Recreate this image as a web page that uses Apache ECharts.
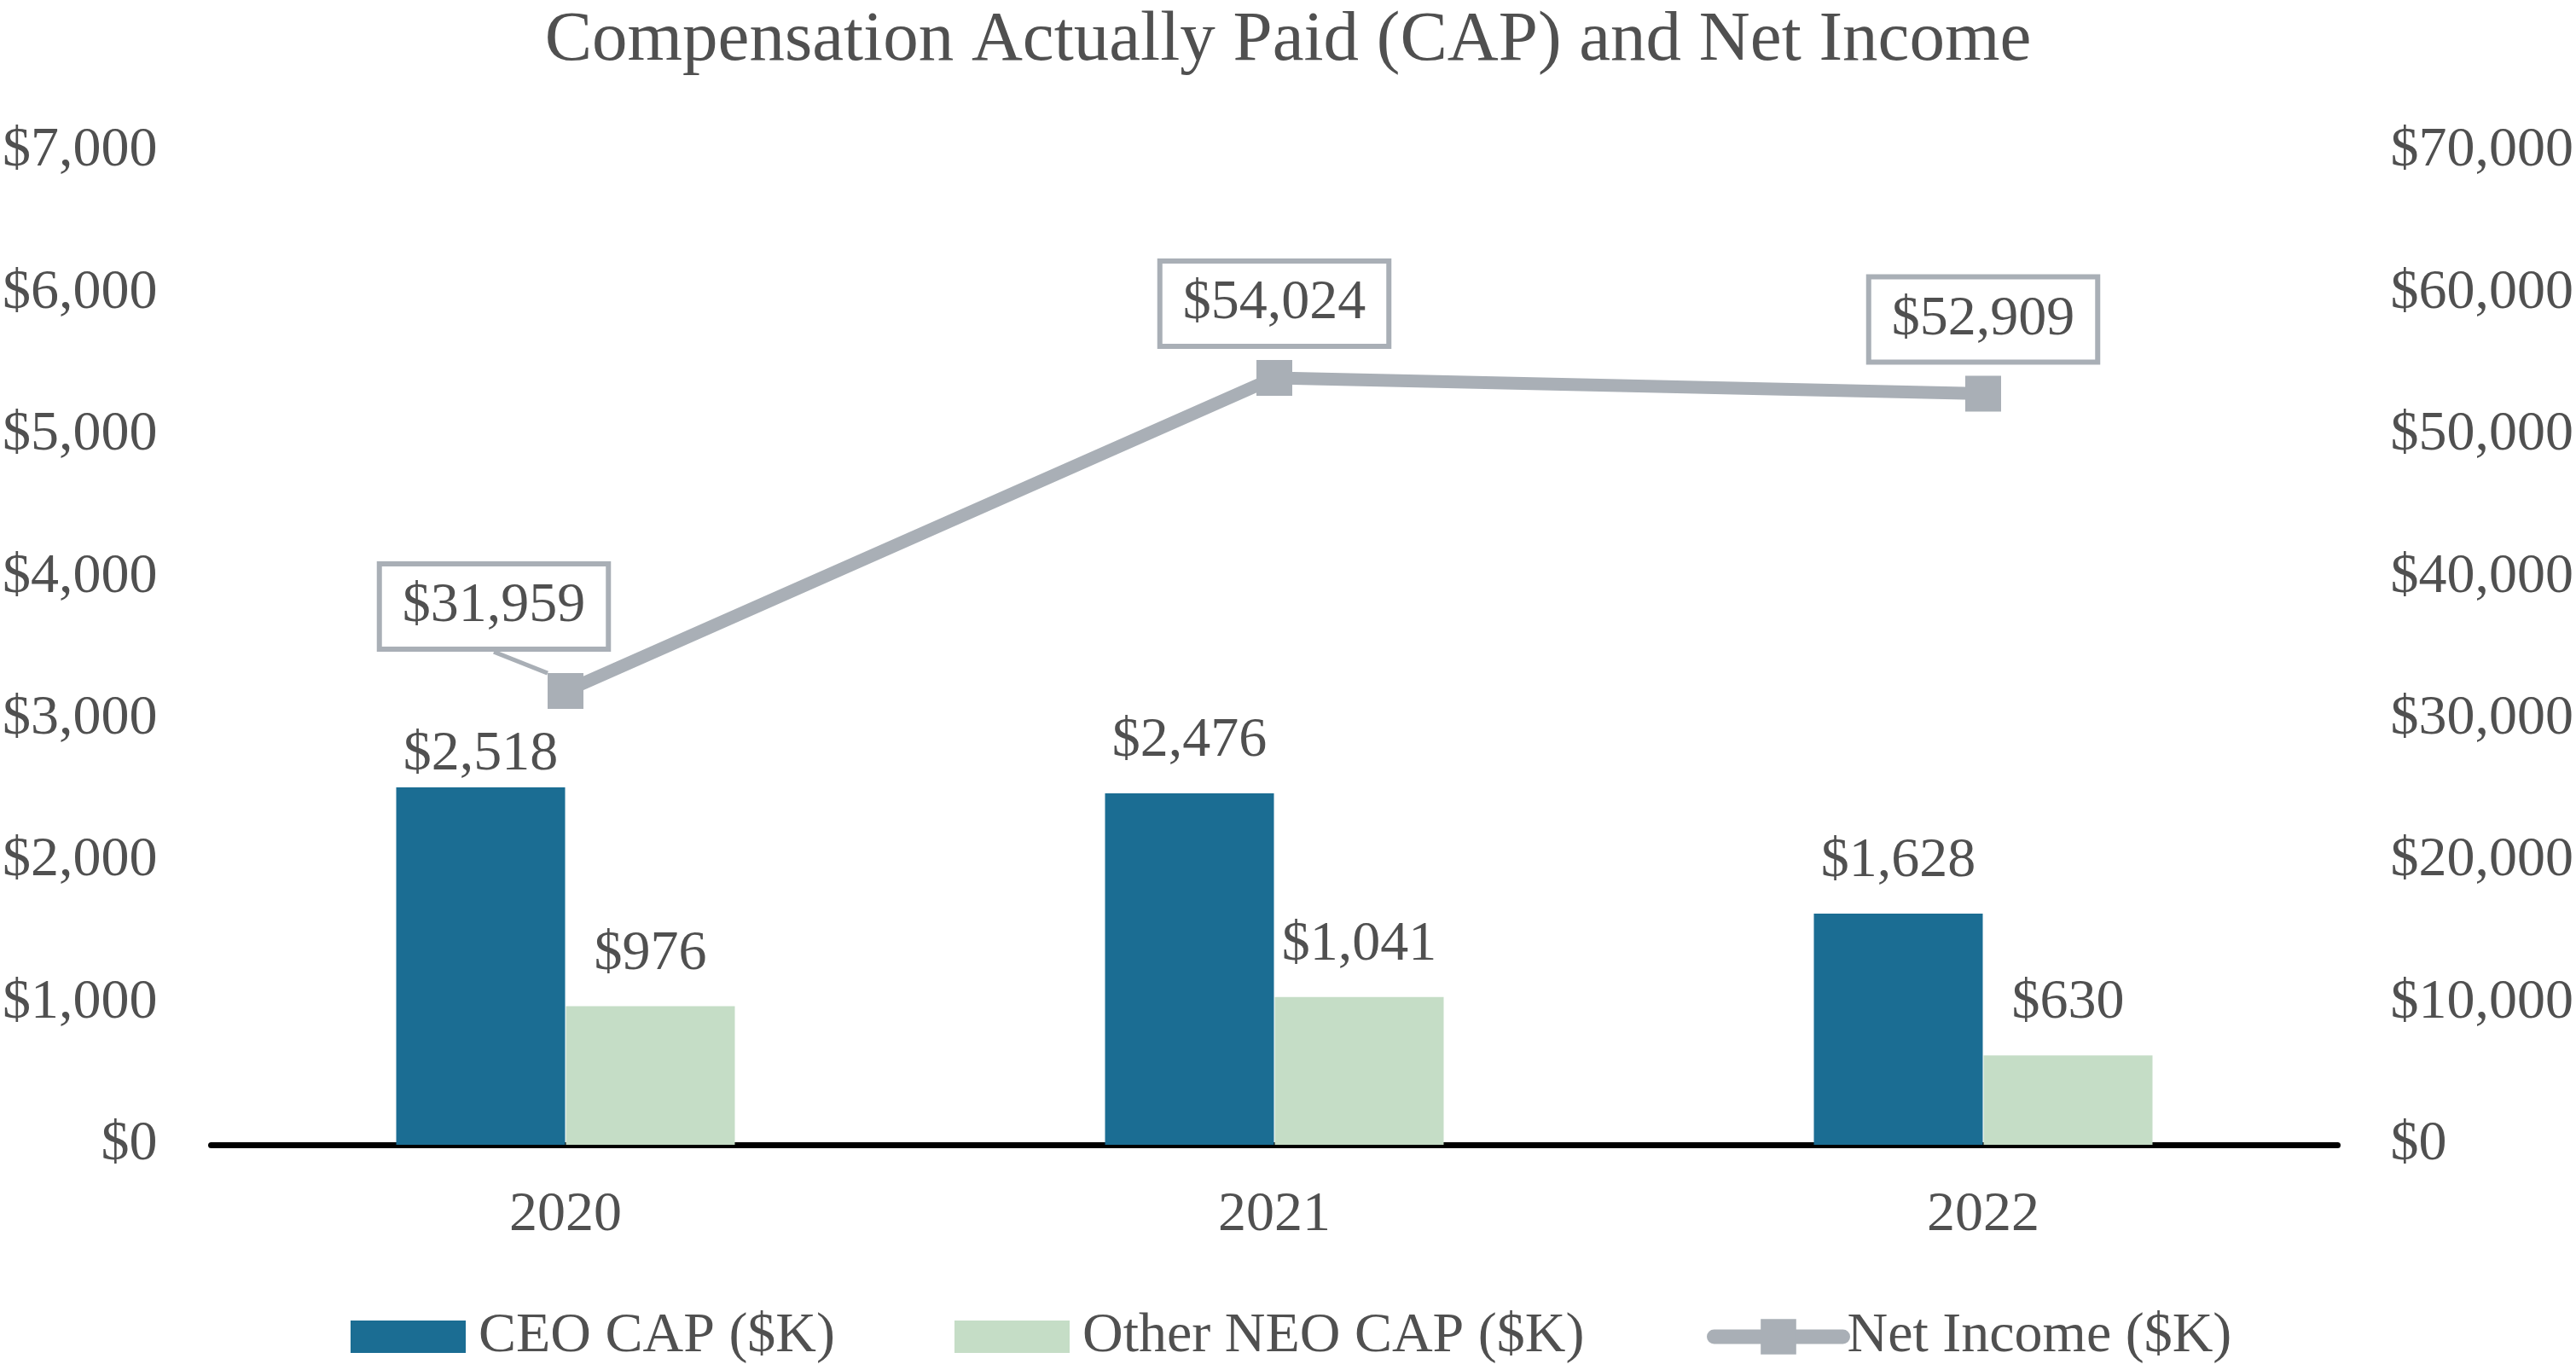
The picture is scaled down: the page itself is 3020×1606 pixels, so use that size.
<!DOCTYPE html>
<html>
<head>
<meta charset="utf-8">
<script src="https://cdn.jsdelivr.net/npm/echarts@6/dist/echarts.min.js"></script>
<style>html,body{margin:0;padding:0;background:#fff}#c{width:3020px;height:1606px}</style>
</head>
<body>
<div id="c"></div>
<script>
var years = ['2020', '2021', '2022'];
var ceoCap = [2518, 2476, 1628];
var neoCap = [976, 1041, 630];
var netIncome = [31959, 54024, 52909];
var leftTicks = {min: 0, max: 7000, interval: 1000};
var rightTicks = {min: 0, max: 70000, interval: 10000};

var FONT = 'Liberation Serif';
var TXT = '#505050';
var CEO_C = '#1b6d93';
var NEO_C = '#c5ddc6';
var LINE_C = '#a9afb6';

function money(v) { return '$' + Number(v).toLocaleString('en-US'); }

var chart = echarts.init(document.getElementById('c'));

var ceoData = ceoCap.map(function (v, i) {
  return i === 0 ? {value: v, label: {offset: [0, 23]}} : v;
});
var niData = netIncome.map(function (v, i) {
  return i === 0 ? {value: v} : {value: v, labelLine: {show: false}};
});

chart.setOption({
  backgroundColor: '#fff',
  animation: false,
  title: {
    text: 'Compensation Actually Paid (CAP) and Net Income',
    left: 'center', top: 2,
    textStyle: {fontFamily: FONT, fontSize: 83, fontWeight: 'normal', color: TXT}
  },
  legend: [{
    data: ['CEO CAP ($K)', 'Other NEO CAP ($K)'],
    left: 406, top: 1529,
    itemWidth: 135, itemHeight: 38, itemGap: 140,
    icon: 'rect',
    textStyle: {fontFamily: FONT, fontSize: 66, color: TXT, padding: [0, 0, 0, 10]}
  }, {
    data: ['Net Income ($K)'],
    left: 1996, top: 1529,
    itemWidth: 151, itemHeight: 52,
    lineStyle: {width: 17, cap: 'round'},
    textStyle: {fontFamily: FONT, fontSize: 66, color: TXT, padding: [0, 0, 0, 0]}
  }],
  grid: {left: 246, right: 274, top: 177, bottom: 264, containLabel: false},
  xAxis: {
    type: 'category', data: years,
    axisLine: {show: true, lineStyle: {color: '#000', width: 7}},
    axisTick: {show: false},
    axisLabel: {fontFamily: FONT, fontSize: 66, color: TXT, margin: 50},
    splitLine: {show: false}
  },
  yAxis: [{
    type: 'value', min: leftTicks.min, max: leftTicks.max, interval: leftTicks.interval,
    axisLine: {show: false}, axisTick: {show: false}, splitLine: {show: false},
    axisLabel: {fontFamily: FONT, fontSize: 66, color: TXT, margin: 63, formatter: money}
  }, {
    type: 'value', min: rightTicks.min, max: rightTicks.max, interval: rightTicks.interval,
    axisLine: {show: false}, axisTick: {show: false}, splitLine: {show: false},
    axisLabel: {fontFamily: FONT, fontSize: 66, color: TXT, margin: 62, formatter: money}
  }],
  series: [{
    name: 'CEO CAP ($K)', type: 'bar', data: ceoData,
    barWidth: 198, barGap: '0.5%',
    itemStyle: {color: CEO_C},
    label: {show: true, position: 'top', distance: 28, fontFamily: FONT, fontSize: 66, color: TXT,
      formatter: function (p) { return money(p.value); }}
  }, {
    name: 'Other NEO CAP ($K)', type: 'bar', data: neoCap,
    barWidth: 198, barGap: '0.5%',
    itemStyle: {color: NEO_C},
    label: {show: true, position: 'top', distance: 28, fontFamily: FONT, fontSize: 66, color: TXT,
      formatter: function (p) { return money(p.value); }}
  }, {
    name: 'Net Income ($K)', type: 'line', yAxisIndex: 1, data: niData,
    symbol: 'rect', symbolSize: 42, z: 5,
    lineStyle: {color: LINE_C, width: 15},
    itemStyle: {color: LINE_C},
    label: {show: true, position: 'top', distance: 19, fontFamily: FONT, fontSize: 66, color: TXT,
      backgroundColor: '#fff', borderColor: LINE_C, borderWidth: 6, padding: [14, 24],
      formatter: function (p) { return money(p.value); }},
    labelLine: {show: true, lineStyle: {color: LINE_C, width: 5}},
    labelLayout: function (p) {
      if (p.dataIndex === 0) { return {dx: -84, dy: -12}; }
      return {};
    }
  }]
});
</script>
</body>
</html>
